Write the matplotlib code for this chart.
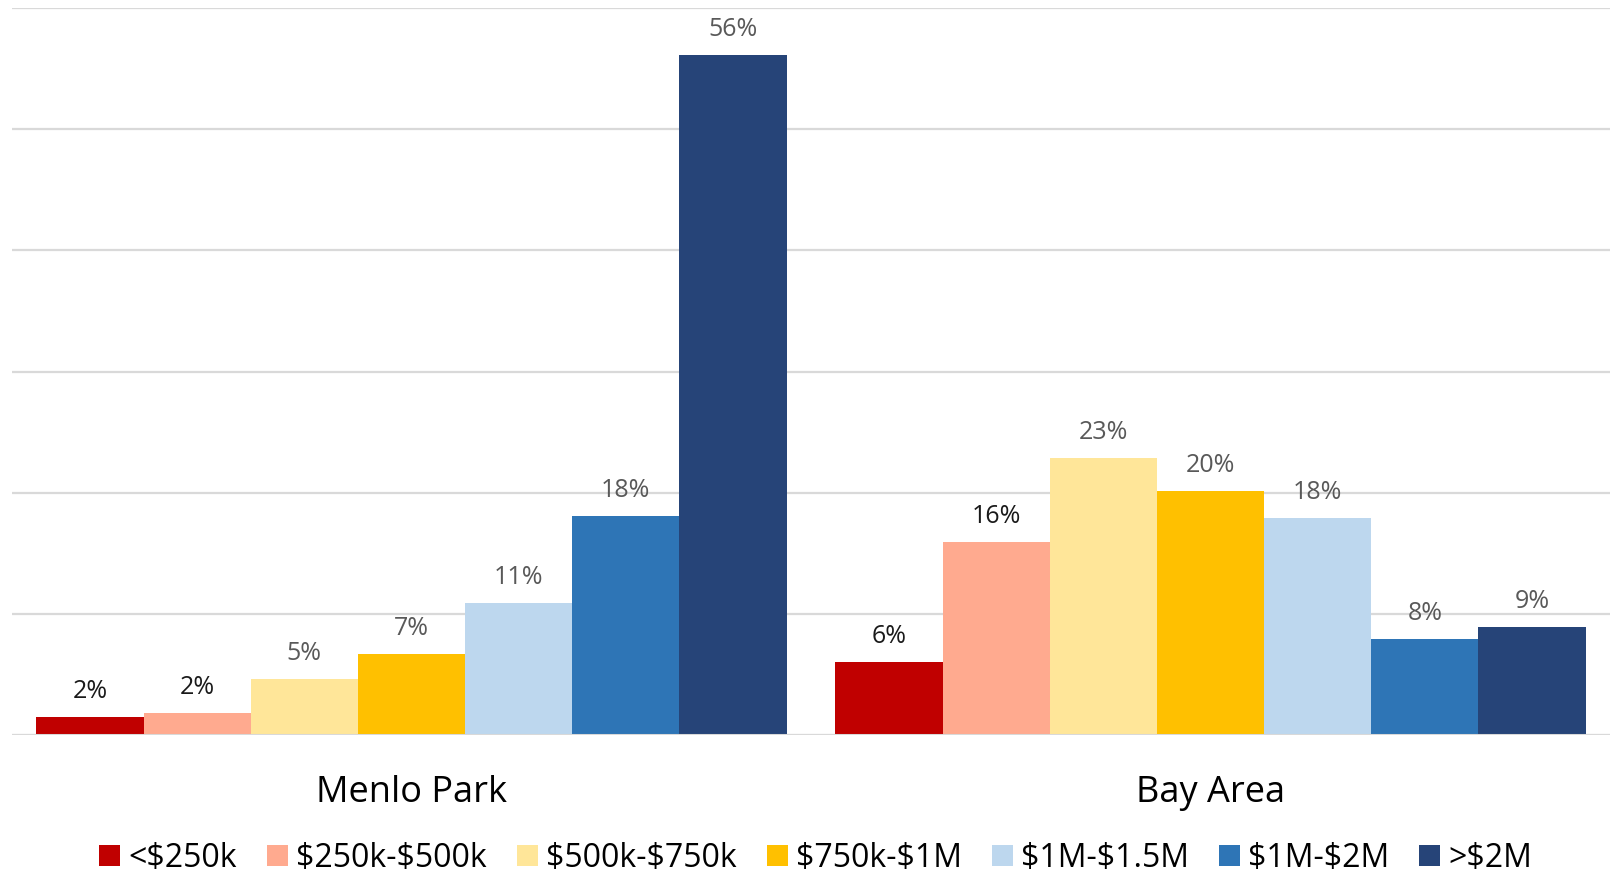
import matplotlib.pyplot as plt
import numpy as np

plt.rcParams['font.family'] = ['Open Sans', 'DejaVu Sans']
plt.rcParams['text.parse_math'] = False

# data
groups = ['Menlo Park', 'Bay Area']
brackets = ['<$250k', '$250k-$500k', '$500k-$750k', '$750k-$1M',
            '$1M-$1.5M', '$1M-$2M', '>$2M']
menlo_park = [1.5, 1.8, 4.6, 6.7, 10.9, 18.1, 56.1]
bay_area = [6.0, 15.9, 22.9, 20.1, 17.9, 7.9, 8.9]
menlo_labels = ['2%', '2%', '5%', '7%', '11%', '18%', '56%']
bay_labels = ['6%', '16%', '23%', '20%', '18%', '8%', '9%']

colors = ['#C00000', '#FFAA8F', '#FFE699', '#FFC000',
          '#BDD7EE', '#2E75B6', '#264478']
# a few labels in the reference are darker than the rest
dark_labels = {(0, 0), (0, 1), (1, 0), (1, 1)}

fig = plt.figure(figsize=(16.12, 8.72), dpi=100)
ax = fig.add_axes([12 / 1612, 1 - 735 / 872, 1598 / 1612, 727 / 872])

n = len(brackets)
group_width = 0.939
bar_w = group_width / n
x = np.arange(len(groups))
values = [menlo_park, bay_area]
labels = [menlo_labels, bay_labels]

for i in range(n):
    xs = x - group_width / 2 + bar_w * (i + 0.5)
    heights = [values[0][i], values[1][i]]
    bars = ax.bar(xs, heights, width=bar_w, color=colors[i],
                  label=brackets[i], zorder=3)
    for g, b in enumerate(bars):
        col = '#1a1a1a' if (g, i) in dark_labels else '#595959'
        ax.annotate(labels[g][i], (b.get_x() + b.get_width() / 2, b.get_height()),
                    xytext=(0, 13.7), textcoords='offset points',
                    ha='center', va='baseline', fontsize=18, color=col)

ax.set_xlim(-0.5, 1.5)
ax.set_ylim(0, 60)
ax.set_yticks(np.arange(0, 61, 10))
ax.yaxis.grid(True, color='#D9D9D9', linewidth=1.6, zorder=0)
ax.tick_params(left=False, labelleft=False, bottom=False, labelbottom=False)
for s in ax.spines.values():
    s.set_visible(False)
ax.axhline(0, color='#D9D9D9', linewidth=2.2, zorder=4)

for xi, name in zip(x, groups):
    ax.annotate(name, (xi, 0), xycoords=('data', 'axes fraction'),
                xytext=(0, -48.5), textcoords='offset points',
                ha='center', va='baseline', fontsize=26, color='#000000')

fig.legend(loc='center', bbox_to_anchor=(0.506, 1 - 858 / 872), ncol=7,
           frameon=False, fontsize=23, handlelength=0.65, handleheight=0.65,
           handletextpad=0.25, columnspacing=0.95, borderpad=0, borderaxespad=0)

fig.savefig('out.png', dpi=100)
